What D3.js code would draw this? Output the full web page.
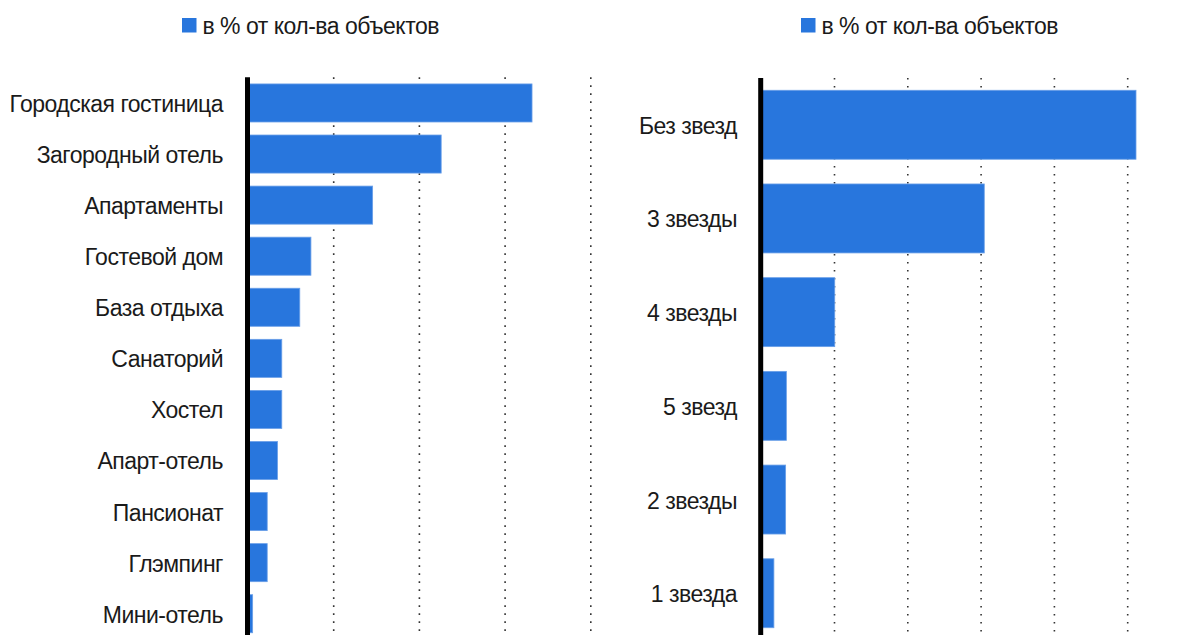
<!DOCTYPE html>
<html>
<head>
<meta charset="utf-8">
<script src="https://cdn.jsdelivr.net/npm/d3@7"></script>
<style>
  body { margin: 0; background: #fff; }
  svg { display: block; font-family: 'Liberation Sans', Arial, sans-serif; }
  .grid line { stroke: #333; stroke-width: 1.6; stroke-dasharray: 1.6 6.4; }
  .grid .domain { display: none; }
  .cat-label { font-size: 23px; letter-spacing: -0.5px; fill: #1a1a1a; }
  .legend-text { font-size: 23px; letter-spacing: -0.5px; fill: #1a1a1a; }
</style>
</head>
<body>
<div id="chart"></div>
<script>
const width = 1195;
const height = 635;

// Left panel: object types, % of objects
const typeLabels = ['Городская гостиница', 'Загородный отель', 'Апартаменты', 'Гостевой дом',
  'База отдыха', 'Санаторий', 'Хостел', 'Апарт-отель', 'Пансионат', 'Глэмпинг', 'Мини-отель'];
const typeValues = [33.2, 22.6, 14.6, 7.4, 6.1, 4.0, 4.0, 3.5, 2.3, 2.3, 0.6];

// Right panel: star categories, % of objects
const starLabels = ['Без звезд', '3 звезды', '4 звезды', '5 звезд', '2 звезды', '1 звезда'];
const starValues = [51.2, 30.5, 10.1, 3.5, 3.4, 1.8];

const legendText = 'в % от кол-ва объектов';
const barColor = '#2876dd';

const svg = d3.select('#chart').append('svg')
    .attr('width', width)
    .attr('height', height);

function panel (opts) {
  const x = d3.scaleLinear().domain(opts.xDomain).range(opts.xRange);
  const y = d3.scaleBand()
    .domain(opts.labels)
    .range(opts.yRange)
    .paddingInner(opts.padInner)
    .paddingOuter(opts.padOuter);

  const g = svg.append('g');

  // dotted vertical gridlines (behind bars)
  const gridTop = opts.yRange[0];
  g.append('g')
    .attr('class', 'grid')
    .attr('transform', `translate(0, ${gridTop})`)
    .call(d3.axisBottom(x)
      .tickValues(opts.gridTicks)
      .tickSize(height - gridTop)
      .tickFormat(''));

  g.selectAll('.bar')
    .data(opts.values)
    .enter()
    .append('rect')
      .attr('class', 'bar')
      .attr('x', x(0))
      .attr('y', function (d, i) { return y(opts.labels[i]); })
      .attr('width', function (d) { return x(d) - x(0); })
      .attr('height', y.bandwidth())
      .attr('fill', barColor)
      .attr('stroke', '#6a9fe8')
      .attr('stroke-width', 0.8);

  // category labels
  g.selectAll('.cat-label')
    .data(opts.labels)
    .enter()
    .append('text')
      .attr('class', 'cat-label')
      .attr('text-anchor', 'end')
      .attr('x', opts.labelX)
      .attr('y', function (d) { return y(d) + y.bandwidth() / 2; })
      .attr('dy', '0.39em')
      .text(function (d) { return d; });

  // zero axis line
  g.append('line')
    .attr('x1', x(0)).attr('x2', x(0))
    .attr('y1', gridTop).attr('y2', height)
    .attr('stroke', '#000')
    .attr('stroke-width', 5);

  // legend
  const lg = g.append('g').attr('transform', `translate(${opts.legendX}, 18)`);
  lg.append('rect')
    .attr('width', 14.5).attr('height', 14.5)
    .attr('fill', barColor);
  lg.append('text')
    .attr('class', 'legend-text')
    .attr('x', 20.5)
    .attr('y', 15.5)
    .text(legendText);
}

panel({
  labels: typeLabels,
  values: typeValues,
  xDomain: [0, 40],
  xRange: [247.5, 590.3],
  gridTicks: [10, 20, 30, 40],
  yRange: [77.3, 639.4],
  padInner: 0.255,
  padOuter: 0.13,
  labelX: 223,
  legendX: 182
});

panel({
  labels: starLabels,
  values: starValues,
  xDomain: [0, 50],
  xRange: [760.7, 1127.2],
  gridTicks: [10, 20, 30, 40, 50],
  yRange: [78, 640],
  padInner: 0.264,
  padOuter: 0.131,
  labelX: 737,
  legendX: 801
});
</script>
</body>
</html>
